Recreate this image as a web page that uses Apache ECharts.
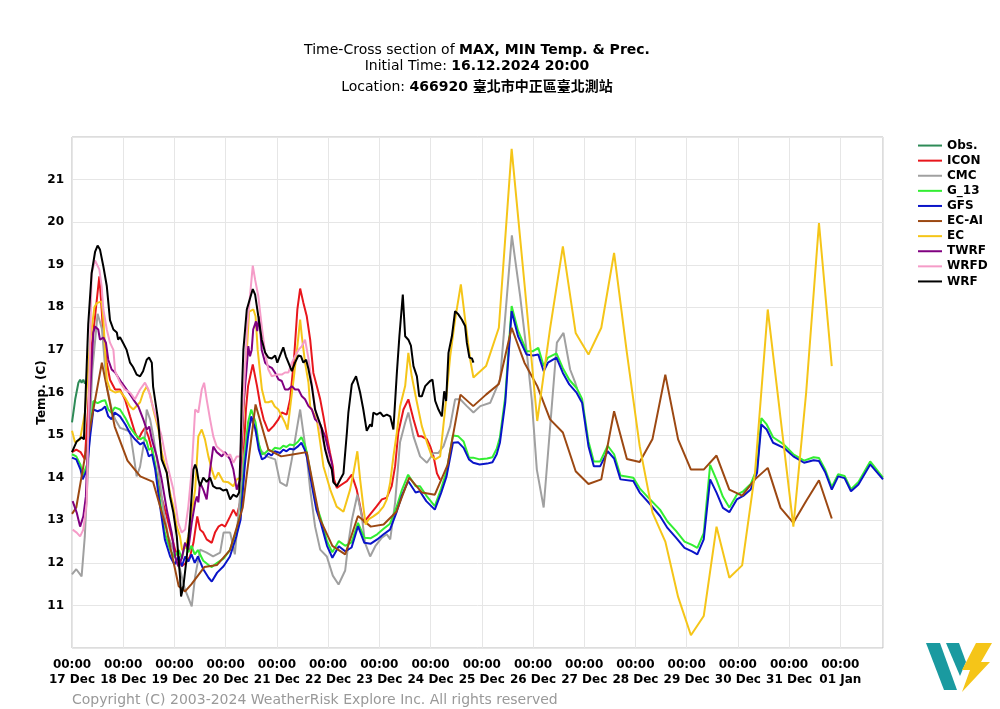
<!DOCTYPE html>
<html><head><meta charset="utf-8">
<script src="https://cdn.jsdelivr.net/npm/echarts@6/dist/echarts.min.js"></script>
<style>html,body{margin:0;padding:0;background:#fff}#c{width:1000px;height:709px}</style>
</head><body><div id="c"></div><script>
// hours after 17 Dec 00:00
const dayLabels = ['17 Dec','18 Dec','19 Dec','20 Dec','21 Dec','22 Dec','23 Dec','24 Dec','25 Dec','26 Dec','27 Dec','28 Dec','29 Dec','30 Dec','31 Dec','01 Jan'];
const seriesNames = ['Obs.','ICON','CMC','G_13','GFS','EC-AI','EC','TWRF','WRFD','WRF'];

const OBS = [[0,15.3],[1,15.65],[1.5,15.84],[3,16.23],[3.8,16.3],[4.5,16.23],[5.3,16.3],[6.1,16.2]];

const ICON = [[0,14.6],[2,14.66],[4,14.6],[6,14.43],[7.5,15.6],[9,17.0],[10.8,17.79],[12.8,18.73],[13.9,17.95],[14.7,17.32],[16.3,16.7],[17.8,16.3],[20.2,16.07],[22.5,16.07],[24.8,15.84],[27.2,15.44],[29.5,15.06],[31.1,14.9],[32.7,15.06],[34.2,15.17],[35.8,14.97],[37.4,14.66],[38.9,14.3],[41.3,13.65],[44.4,13.09],[46.7,12.62],[48.3,12.31],[49.8,12.15],[51.4,11.92],[53.4,12.0],[55.3,12.15],[56.9,12.47],[58.7,13.09],[60,12.78],[61.5,12.71],[63.1,12.55],[65.5,12.47],[67,12.71],[68.6,12.85],[70.2,12.9],[71.7,12.85],[74.1,13.09],[75.6,13.25],[77.2,13.1],[78.8,13.42],[80.5,14.6],[81.5,15.6],[82.5,16.15],[84.7,16.66],[86.7,16.15],[88.3,15.68],[89.8,15.37],[92,15.09],[94.4,15.21],[96.7,15.37],[98.3,15.53],[100.6,15.48],[102.2,15.84],[104,16.77],[105.6,17.95],[106.9,18.44],[108.4,18.11],[110,17.79],[111.6,17.24],[113.1,16.46],[114.7,16.15],[116.3,15.84],[117.8,15.44],[119.4,14.97],[120.9,14.58],[122.2,14.27],[122.8,13.96],[124.1,13.76],[126.4,13.84],[128.8,13.92],[131.1,14.07],[133.4,13.72],[135,13.33],[136.5,12.94],[139.7,13.14],[142.8,13.33],[145.2,13.49],[147.5,13.53],[149.8,13.8],[151.4,14.27],[152.9,15.06],[155.3,15.6],[157.6,15.84],[160,15.37],[162.3,14.97],[163.9,14.97],[166.3,14.9],[167.8,14.74],[169.4,14.5],[171,14.1],[172.5,13.95]];

const CMC = [[0,11.73],[2,11.85],[4.5,11.68],[6,12.62],[7.5,14.19],[9.5,16.5],[12,17.85],[14,17.5],[16.3,16.14],[18.6,15.6],[20.2,15.37],[22.5,15.17],[24.8,15.13],[27.2,15.08],[28.7,14.58],[30.3,14.03],[31.9,14.26],[34.2,14.97],[35,15.6],[36.6,15.37],[38.1,14.97],[40.5,14.19],[42.8,13.25],[45.1,12.62],[47.5,12.31],[49.1,12.0],[50.6,11.85],[52.9,11.38],[56.1,10.98],[57.7,11.68],[60,12.31],[63.1,12.24],[66.1,12.15],[69.4,12.24],[71,12.71],[74.1,12.71],[76.3,12.2],[77.9,13.09],[79.5,14.03],[81.9,15.06],[84.2,15.37],[85.8,15.13],[88.1,14.66],[91.2,14.5],[95.2,14.43],[97.5,13.89],[100.6,13.8],[103,14.43],[105.3,15.13],[106.9,15.6],[108.4,15.06],[110,14.5],[111.6,13.72],[113.9,12.85],[116.3,12.31],[119.4,12.15],[122.2,11.7],[124.9,11.49],[128,11.82],[129.5,12.47],[131.1,13.0],[133.7,13.6],[135.8,13.09],[137.3,12.47],[139.7,12.15],[142.1,12.39],[145.2,12.59],[147.5,12.67],[149.1,12.55],[151.4,13.42],[153.7,14.83],[156.1,15.29],[157.6,15.53],[160,14.97],[163.1,14.5],[166.3,14.35],[169.4,14.58],[171.7,14.58],[174.1,14.74],[177.2,15.21],[179.5,15.84],[181.9,15.84],[185,15.68],[188.1,15.53],[191.3,15.68],[196,15.76],[200.6,16.31],[206.1,19.69],[210,18.26],[213.1,16.93],[215.4,15.84],[217.8,14.19],[221,13.3],[227.2,17.17],[230.3,17.4],[233.4,16.54],[235.8,16.23],[236.6,16.1]];

const G13 = [[0,14.55],[2,14.5],[4,14.3],[5,14.05],[7,14.3],[8.5,15.1],[10,15.8],[12,15.75],[14,15.8],[15.5,15.82],[17,15.6],[18.5,15.52],[20,15.65],[22.5,15.6],[25,15.4],[27,15.2],[29.5,15.02],[32,14.9],[33.5,14.95],[35,14.85],[36,14.65],[37.5,14.7],[39,14.3],[41,13.55],[43.5,12.7],[46,12.3],[48,12.13],[50,12.3],[51.5,12.1],[53,12.47],[54.5,12.25],[56,12.4],[57.5,12.2],[59,12.3],[61.5,12.05],[64,11.95],[65.5,11.9],[68,12.0],[71,12.1],[74,12.3],[77,12.75],[79,13.15],[81,14.5],[82.5,15.3],[84,15.6],[86,15.3],[87.5,14.8],[89,14.55],[90.5,14.58],[92,14.65],[93.5,14.62],[95,14.7],[97.5,14.68],[99,14.75],[100.5,14.72],[102,14.78],[104,14.76],[106,14.85],[107.5,14.95],[109,14.78],[110,14.6],[113,13.75],[114.5,13.35],[116.5,13.05],[119.5,12.5],[122,12.25],[125,12.51],[128,12.4],[131,12.48],[134,12.94],[137,12.59],[140,12.58],[143,12.67],[146,12.8],[149,12.92],[152,13.3],[154.5,13.7],[157.5,14.07],[161,13.8],[163,13.8],[166,13.58],[170,13.33],[173,13.75],[175.5,14.15],[178.5,14.99],[181,14.97],[183.5,14.85],[186,14.47],[188,14.47],[191,14.43],[194.5,14.45],[197,14.48],[199,14.68],[200.5,14.95],[203,15.9],[206,18.03],[209,17.45],[213,16.97],[216,16.97],[218.5,17.05],[221,16.62],[223,16.82],[227,16.92],[230,16.57],[233,16.3],[236.5,16.1],[239,15.85],[242,14.85],[244.5,14.38],[247.5,14.38],[251,14.75],[254,14.55],[257,14.05],[263,14.0],[266,13.75],[271,13.48],[275.5,13.25],[279,12.97],[283,12.75],[287,12.5],[290.5,12.42],[293,12.35],[296,12.7],[299,14.3],[302,13.95],[305,13.55],[308,13.3],[311.5,13.6],[314.5,13.68],[318,13.85],[321,14.22],[323,15.4],[325.5,15.25],[328.5,14.95],[333.5,14.78],[338,14.55],[343,14.4],[347.5,14.48],[350,14.46],[353,14.18],[356,13.78],[359,14.08],[362,14.04],[365,13.73],[368.5,13.9],[374,14.38],[380,14.0]];

const GFS = [[0,14.47],[2,14.43],[4,14.19],[5,13.96],[7,14.19],[8.5,14.97],[10,15.6],[12,15.56],[14,15.6],[15.5,15.67],[17,15.44],[18.5,15.37],[20,15.53],[22.5,15.44],[25,15.25],[27,15.06],[29.5,14.9],[32,14.78],[33.5,14.83],[35,14.66],[36,14.5],[37.5,14.55],[39,14.19],[41,13.42],[43.5,12.55],[46,12.15],[48,11.96],[50,12.15],[51.5,11.92],[53,12.15],[54.5,12.03],[56,12.2],[57.5,12.0],[59,12.15],[61.5,11.85],[64,11.65],[65.5,11.56],[68,11.77],[71,11.92],[74,12.15],[77,12.62],[79,13.02],[81,14.3],[82.5,14.97],[84,15.44],[86,15.13],[87.5,14.66],[89,14.43],[90.5,14.47],[92,14.57],[93.5,14.52],[95,14.62],[97.5,14.58],[99,14.66],[100.5,14.62],[102,14.68],[104,14.66],[106,14.74],[107.5,14.82],[109,14.66],[110,14.5],[113,13.65],[114.5,13.25],[116.5,12.95],[119.5,12.4],[122,12.12],[125,12.39],[128,12.27],[131,12.36],[134,12.86],[137,12.47],[140,12.45],[143,12.55],[146,12.67],[149,12.78],[152,13.18],[154.5,13.57],[157.5,13.92],[161,13.65],[163,13.68],[166,13.45],[170,13.25],[173,13.65],[175.5,14.03],[178.5,14.82],[181,14.83],[183.5,14.7],[186,14.43],[188,14.35],[191,14.31],[194.5,14.33],[197,14.36],[199,14.55],[200.5,14.82],[203,15.76],[206,17.91],[209,17.32],[213,16.89],[216,16.87],[218.5,16.89],[221,16.5],[223,16.7],[227,16.82],[230,16.46],[233,16.19],[236.5,15.99],[239,15.76],[242,14.74],[244.5,14.27],[247.5,14.27],[251,14.62],[254,14.45],[257,13.96],[263,13.92],[266,13.65],[271,13.37],[275.5,13.1],[279,12.82],[283,12.59],[287,12.35],[290.5,12.27],[293,12.2],[296,12.55],[299,13.96],[302,13.65],[305,13.29],[308,13.19],[311.5,13.49],[314.5,13.57],[318,13.72],[321,14.12],[323,15.25],[325.5,15.13],[328.5,14.82],[333.5,14.7],[338,14.5],[343,14.35],[347.5,14.41],[350,14.39],[353,14.12],[356,13.72],[359,14.03],[362,13.99],[365,13.68],[368.5,13.84],[374,14.31],[380,13.96]];

const ECAI = [[0,13.15],[2,13.3],[8,15.05],[14,16.7],[20,15.2],[26,14.4],[32,14.03],[38,13.9],[44,12.85],[50,11.45],[53,11.33],[56,11.5],[62,11.9],[68,11.95],[74,12.3],[80,13.3],[86,15.72],[92,14.66],[98,14.5],[104,14.55],[110,14.6],[116,13.05],[122,12.4],[128,12.2],[134,13.1],[140,12.85],[146,12.9],[152,13.2],[158,14.0],[164,13.65],[170,13.6],[176,14.3],[182,15.95],[188,15.68],[194,15.95],[200,16.2],[206,17.52],[212,16.7],[218,16.15],[224,15.37],[230,15.06],[236,14.15],[242,13.85],[248,13.96],[254,15.56],[260,14.44],[266,14.37],[272,14.91],[278,16.42],[284,14.9],[290,14.19],[296,14.19],[302,14.52],[308,13.72],[314,13.58],[320,13.96],[326,14.23],[332,13.29],[338,12.94],[344,13.45],[350,13.94],[356,13.04]];

const EC = [[0,15.1],[1.4,14.83],[3.8,14.9],[6.1,15.53],[8.5,17.2],[10.5,18.0],[11.6,18.1],[13.9,18.14],[14.7,17.71],[16.3,16.3],[17.8,16.07],[20.2,16.0],[22.5,16.03],[24.8,15.88],[27.2,15.67],[28.7,15.6],[31.9,15.77],[33.4,16.0],[35,16.14],[36.6,15.95],[38.1,15.6],[40.5,15.13],[42,14.6],[44.4,14.12],[45.9,13.65],[47.5,13.32],[49.1,12.85],[50.6,12.62],[51.6,12.3],[53,12.35],[54.5,12.62],[56.1,13.18],[57.7,13.72],[59.2,14.97],[60.8,15.13],[62.3,14.9],[63.9,14.5],[65.5,14.19],[67,13.96],[68.6,14.12],[70.9,13.91],[73.3,13.89],[75.6,13.8],[77.2,13.96],[79,14.0],[81,16.2],[83,17.9],[85,17.95],[86,17.79],[87,17.0],[89,16.07],[90.5,15.77],[92,15.77],[93.6,15.8],[95,15.67],[96.7,15.6],[98.3,15.44],[99.8,15.29],[101,15.13],[102.5,15.77],[104,16.38],[105.6,17.09],[106.9,17.71],[107.7,17.32],[109.2,16.7],[110.8,16.23],[111.6,15.67],[114.7,15.37],[116.3,14.83],[117.8,14.27],[121,13.72],[124,13.32],[127.2,13.2],[130.3,13.72],[131.9,14.12],[133.7,14.62],[135,13.96],[136.5,13.32],[137.6,12.9],[138.9,13.02],[141.2,13.09],[143.6,13.18],[145.9,13.32],[147.5,13.49],[149.1,13.89],[150.6,14.5],[152.2,15.06],[153.7,15.67],[156.1,16.15],[157.6,16.93],[159.2,16.38],[161.6,15.77],[163.9,15.21],[166.3,14.83],[168.6,14.5],[170.2,14.43],[172.5,14.5],[174.8,15.6],[177.2,16.85],[179.5,17.71],[182.2,18.54],[184.2,17.71],[186.6,16.77],[188.1,16.35],[194,16.62],[200,17.52],[206,21.72],[212,18.56],[218,15.33],[224,17.5],[230,19.43],[236,17.4],[242,16.89],[248,17.52],[254,19.28],[260,16.93],[266,14.74],[272,13.18],[278,12.5],[284,11.2],[290,10.3],[296,10.75],[302,12.85],[308,11.65],[314,11.94],[320,14.1],[326,17.95],[332,15.4],[338,12.85],[344,16.0],[350,19.98],[356,16.62]];

const TWRF = [[0.3,13.45],[2.2,13.18],[3.8,12.85],[5.3,13.09],[6.5,13.56],[8,15.5],[10,17.41],[10.8,17.55],[12.3,17.48],[13.1,17.24],[14.7,17.29],[15.9,17.17],[17,16.77],[18.6,16.54],[20.2,16.47],[21,16.5],[23.3,16.23],[25.6,16.07],[28.7,15.84],[31.1,15.67],[33.4,15.37],[35,15.13],[36.2,15.2],[37.4,14.9],[39.7,14.5],[42,13.96],[44.4,13.25],[46.7,12.71],[48.3,12.15],[49.8,11.92],[51.4,12.1],[53,12.47],[54.5,12.31],[56.1,12.94],[57.7,13.42],[58.5,13.56],[59.2,13.42],[60,13.89],[61.5,13.72],[63.1,13.49],[64.7,14.19],[66.2,14.73],[67.8,14.6],[70.2,14.5],[71.7,14.6],[74.1,14.43],[75.6,14.19],[77.2,13.72],[78.8,13.96],[80.3,15.68],[81.9,16.62],[82.6,17.09],[83.4,16.85],[84.2,17.0],[84.9,17.48],[86.2,17.67],[86.8,17.44],[87.7,17.79],[88.9,17.0],[90.5,16.7],[92,16.62],[93.6,16.58],[95.2,16.46],[96.7,16.31],[98.3,16.27],[99.8,16.07],[101.4,16.07],[103,16.15],[104.5,16.07],[106.1,16.07],[107.7,15.91],[109.2,15.84],[110.8,15.68],[112.4,15.6],[113.9,15.37],[116.3,15.25],[118.6,14.97],[120.1,14.66],[121.7,14.35],[122.5,13.9]];

const WRFD = [[0.3,12.78],[2.2,12.71],[3.8,12.62],[5.3,12.78],[6.9,13.42],[9.2,18.8],[10.8,19.1],[12.8,18.89],[13.9,18.49],[14.7,17.95],[16.3,17.48],[17.8,17.17],[19.4,17.0],[20.2,16.5],[22.5,16.23],[24.8,16.07],[27.2,16.0],[29.5,15.84],[31.9,16.07],[34.2,16.23],[35.8,16.07],[37.4,15.76],[39.7,15.37],[42,14.97],[44.4,14.35],[47.5,13.72],[49.8,12.94],[51.4,12.71],[53,12.78],[54.5,13.32],[56.1,14.19],[57.7,15.6],[59.2,15.53],[60.8,16.07],[61.9,16.23],[63.1,15.84],[64.7,15.37],[66.2,14.97],[67.8,14.73],[69.4,14.66],[70.9,14.6],[72.5,14.5],[74.1,14.55],[75.6,14.35],[77.2,14.5],[78.8,14.5],[80,15.5],[82,17.5],[84.7,18.98],[85.8,18.65],[87.3,18.26],[88.9,17.56],[90.5,16.93],[92,16.54],[93.6,16.38],[96,16.42],[98.3,16.42],[99.8,16.47],[101.4,16.47],[103,16.7],[104.5,16.85],[106.1,17.0],[107.7,17.09],[109.2,17.24],[110.8,16.8],[112.4,16.2],[114,15.6],[116,15.2],[118,14.8],[120,14.5],[121.5,14.2]];

const WRF = [[0,14.6],[2.2,14.85],[4.5,14.95],[5.6,14.9],[7.6,17.6],[9.2,18.8],[10.8,19.3],[12,19.45],[13.1,19.36],[14.7,18.96],[16.3,18.5],[17.8,17.7],[19.4,17.48],[21,17.41],[21.6,17.24],[22.5,17.3],[23.9,17.17],[25.6,17.0],[27.2,16.7],[28.6,16.6],[30.3,16.42],[31.9,16.38],[33.3,16.5],[35,16.77],[36.1,16.82],[37.4,16.7],[38,16.14],[40.3,15.37],[42,14.43],[44.4,14.12],[45.9,13.56],[47.5,13.18],[49.1,12.62],[50.6,11.68],[51.1,11.21],[52.2,11.45],[53.8,12.15],[55.3,13.02],[56.9,14.19],[57.7,14.31],[58.5,14.19],[59.2,13.96],[60,13.8],[61.5,14.0],[63.1,13.9],[64.7,14.0],[66.1,13.8],[67.8,13.75],[69.4,13.75],[70.8,13.7],[72.5,13.72],[74.1,13.49],[75.5,13.6],[77.2,13.55],[78.3,13.65],[79,14.66],[79.5,15.84],[80.3,17.0],[81.9,17.95],[84.7,18.43],[85.8,18.3],[87.3,17.79],[88.9,17.24],[90.5,16.94],[92,16.82],[93.6,16.8],[95.2,16.87],[96.2,16.7],[97.5,16.87],[99,17.06],[100.2,16.85],[101.4,16.7],[103,16.5],[104.5,16.7],[106.1,16.87],[107.3,16.85],[108.4,16.7],[109.7,16.77],[110.8,16.55],[112.4,16.14],[113.9,15.6],[115.5,15.37],[117,15.15],[118.6,14.66],[120.1,14.38],[121.7,14.2],[122.5,13.89],[124.1,13.8],[125.6,13.95],[127.2,14.1],[128.8,15.06],[129.5,15.53],[131.1,16.19],[133.1,16.38],[135,16.0],[136.5,15.6],[138.1,15.1],[139.7,15.25],[140.5,15.2],[141.2,15.53],[142.8,15.48],[144.4,15.53],[145.9,15.44],[147.5,15.48],[149.1,15.44],[150.6,15.13],[150.9,15.09],[152.2,16.45],[153.4,17.32],[155,18.3],[156.1,17.32],[157.6,17.24],[158.8,17.1],[160,16.62],[161.6,16.38],[162.7,15.91],[163.9,15.91],[165.5,16.15],[167.8,16.27],[168.9,16.3],[170.2,15.8],[171.7,15.6],[173.3,15.44],[174.4,16.03],[175.3,15.8],[176.4,16.93],[178,17.32],[179.5,17.91],[181.1,17.83],[182.7,17.71],[184.2,17.56],[185,17.17],[186.2,16.82],[187.4,16.8],[188.1,16.7]];

const seriesData = [OBS, ICON, CMC, G13, GFS, ECAI, EC, TWRF, WRFD, WRF];
const seriesColors = ['#2e8b57','#e8161c','#a0a0a0','#33ee33','#0a14c8','#9c4812','#f5c518','#800080','#f59cc8','#000000'];

const FONT = "'DejaVu Sans', 'Noto Sans CJK TC', sans-serif";
const chart = echarts.init(document.getElementById('c'), null, {renderer: 'canvas'});
chart.setOption({
  animation: false,
  backgroundColor: '#fff',
  textStyle: {fontFamily: FONT},
  grid: {left: 72, top: 137, width: 811, height: 511, show: true, borderColor: '#bbbbbb', borderWidth: 1, containLabel: false},
  xAxis: {
    type: 'value', min: 0, max: 380, interval: 24,
    axisLine: {show: false}, axisTick: {show: false},
    splitLine: {show: true, lineStyle: {color: '#e6e6e6', width: 1}},
    axisLabel: {
      formatter: v => (v % 24 === 0 && v / 24 < dayLabels.length) ? '00:00\n' + dayLabels[v / 24] : '',
      fontWeight: 'bold', fontSize: 12, color: '#000', margin: 9, lineHeight: 15, fontFamily: FONT,
      showMinLabel: true, showMaxLabel: true
    }
  },
  yAxis: {
    type: 'value', min: 10, max: 22, interval: 1,
    axisLine: {show: false}, axisTick: {show: false},
    splitLine: {show: true, lineStyle: {color: '#e6e6e6', width: 1}},
    axisLabel: {formatter: v => (v > 10 && v < 22) ? String(v) : '', fontWeight: 'bold', fontSize: 12, color: '#000', margin: 8, fontFamily: FONT},
    name: 'Temp. (C)', nameLocation: 'middle', nameGap: 24, nameMoveOverlap: false,
    nameTextStyle: {fontWeight: 'bold', fontSize: 12, color: '#000', fontFamily: FONT}
  },
  legend: {
    orient: 'vertical', left: 918, top: 138, padding: 0, itemWidth: 24, itemHeight: 2, itemGap: 0, icon: 'rect',
    data: seriesNames,
    textStyle: {fontWeight: 'bold', fontSize: 12, color: '#000', lineHeight: 15.1, fontFamily: FONT}
  },
  series: seriesNames.map((n, i) => ({
    name: n, type: 'line', data: seriesData[i], showSymbol: false, symbol: 'none',
    lineStyle: {color: seriesColors[i], width: 2}, itemStyle: {color: seriesColors[i]},
    z: 2 + i * 0.01, clip: true
  })),
  graphic: [
    {type: 'text', x: 477, y: 50, style: {text: '{n|Time-Cross section of }{b|MAX, MIN Temp. & Prec.}', align: 'center', verticalAlign: 'middle',
      rich: {n: {fontSize: 14, fontFamily: FONT, fill: '#000'}, b: {fontSize: 14, fontWeight: 'bold', fontFamily: FONT, fill: '#000'}}}},
    {type: 'text', x: 477, y: 66, style: {text: '{n|Initial Time: }{b|16.12.2024 20:00}', align: 'center', verticalAlign: 'middle',
      rich: {n: {fontSize: 14, fontFamily: FONT, fill: '#000'}, b: {fontSize: 14, fontWeight: 'bold', fontFamily: FONT, fill: '#000'}}}},
    {type: 'text', x: 477, y: 87, style: {text: '{n|Location: }{b|466920 臺北市中正區臺北測站}', align: 'center', verticalAlign: 'middle',
      rich: {n: {fontSize: 14, fontFamily: FONT, fill: '#000'}, b: {fontSize: 14, fontWeight: 'bold', fontFamily: FONT, fill: '#000'}}}},
    {type: 'text', x: 72, y: 700, style: {text: 'Copyright (C) 2003-2024 WeatherRisk Explore Inc. All rights reserved', fontSize: 14, fontFamily: FONT, fill: '#999', verticalAlign: 'middle'}},
    {type: 'polygon', shape: {points: [[926,643],[940,643],[957,690],[944,690]]}, style: {fill: '#1a9aa0'}},
    {type: 'polygon', shape: {points: [[946,643],[959,643],[966,662],[960,676]]}, style: {fill: '#1a9aa0'}},
    {type: 'polygon', shape: {points: [[976,643],[992,643],[981,662],[990,662],[962,692],[970,670],[962,670]]}, style: {fill: '#f5c518'}}
  ]
});
</script></body></html>
